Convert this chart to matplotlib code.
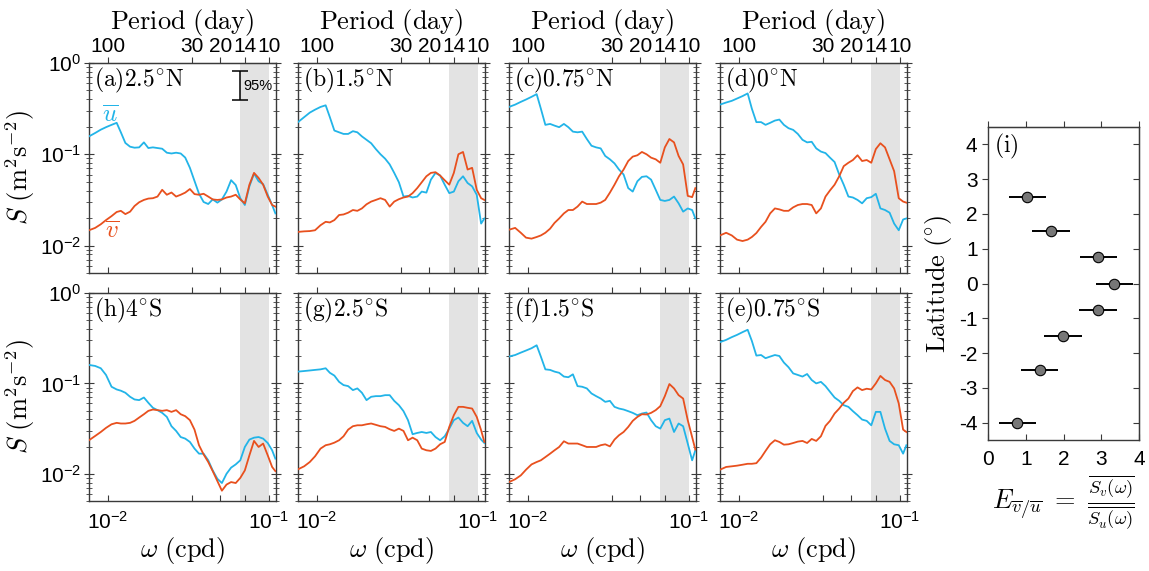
import matplotlib
matplotlib.use("Agg")
import matplotlib.pyplot as plt
from matplotlib.ticker import LogLocator, NullLocator, NullFormatter, FixedLocator

plt.rcParams['font.family'] = ['Liberation Sans', 'DejaVu Sans']
plt.rcParams['mathtext.fontset'] = 'cm'
plt.rcParams['axes.unicode_minus'] = False

# ---------------- data ----------------
freq = [0.0076, 0.0083, 0.0090, 0.0097, 0.0105, 0.0113, 0.0120, 0.0128, 0.0137, 0.0146,
        0.0156, 0.0167, 0.0178, 0.0190, 0.0203, 0.0217, 0.0232, 0.0248, 0.0265, 0.0283,
        0.0302, 0.0323, 0.0345, 0.0368, 0.0393, 0.0420, 0.0448, 0.0479, 0.0511, 0.0546,
        0.0583, 0.0623, 0.0665, 0.0710, 0.0758, 0.0810, 0.0865, 0.0923, 0.0986, 0.1050, 0.1100]

u_a = [0.157,0.171,0.186,0.198,0.210,0.221,0.174,0.133,0.121,0.118,0.119,0.135,0.117,0.119,0.117,0.115,0.104,0.102,0.104,0.102,
       0.092,0.071,0.051,0.037,0.030,0.0285,0.032,0.0295,0.032,0.039,0.052,0.046,0.033,0.0278,0.0445,0.0615,0.0506,0.047,0.036,0.0278,0.0225]
v_a = [0.0147,0.0156,0.0171,0.019,0.021,0.0233,0.024,0.0221,0.0235,0.0271,0.0298,0.0316,0.0327,0.033,0.0344,0.0408,0.036,0.0381,0.0344,0.036,
       0.038,0.0416,0.0366,0.036,0.0369,0.0344,0.032,0.0316,0.032,0.0336,0.0344,0.036,0.032,0.029,0.0464,0.0625,0.055,0.0464,0.0344,0.0278,0.0267]
u_b = [0.225,0.255,0.286,0.308,0.330,0.344,0.255,0.182,0.174,0.167,0.167,0.179,0.174,0.157,0.144,0.132,0.114,0.100,0.0895,0.0774,
       0.0625,0.0493,0.0344,0.035,0.0336,0.0344,0.039,0.038,0.0527,0.0625,0.0585,0.0464,0.0375,0.039,0.0506,0.0574,0.0484,0.0445,0.036,0.0174,0.0198]
v_b = [0.0141,0.0143,0.0144,0.0147,0.0167,0.0182,0.0179,0.019,0.0216,0.0219,0.0229,0.0245,0.024,0.0255,0.0283,0.0303,0.0316,0.033,0.0316,0.0267,
       0.0303,0.0322,0.0336,0.0344,0.0375,0.0426,0.0493,0.0574,0.0625,0.0636,0.0585,0.0519,0.0464,0.0625,0.100,0.106,0.068,0.071,0.0408,0.033,0.0316]
u_c = [0.330,0.350,0.375,0.398,0.426,0.456,0.316,0.210,0.215,0.206,0.198,0.215,0.198,0.177,0.174,0.177,0.147,0.124,0.119,0.116,
       0.0958,0.088,0.0794,0.068,0.060,0.0426,0.039,0.0506,0.0565,0.0574,0.0527,0.0408,0.0316,0.0308,0.0316,0.0344,0.029,0.0235,0.0255,0.0245,0.0198]
v_c = [0.0149,0.0156,0.0138,0.0122,0.0119,0.0124,0.0129,0.0138,0.0153,0.0177,0.0198,0.0225,0.0245,0.0245,0.0267,0.0303,0.0285,0.0285,0.0285,0.0295,
       0.0316,0.038,0.0464,0.0574,0.068,0.0843,0.0942,0.0975,0.106,0.100,0.0918,0.088,0.0807,0.119,0.147,0.135,0.0958,0.0774,0.035,0.0339,0.0426]
u_d = [0.350,0.369,0.385,0.408,0.434,0.464,0.316,0.225,0.225,0.210,0.221,0.234,0.240,0.210,0.193,0.185,0.167,0.144,0.135,0.137,
       0.116,0.107,0.103,0.0918,0.0822,0.060,0.0464,0.0344,0.0336,0.0316,0.029,0.033,0.0339,0.0369,0.0255,0.0245,0.0229,0.0174,0.0147,0.0193,0.0198]
v_d = [0.0129,0.0138,0.0129,0.0116,0.0112,0.0116,0.0124,0.0137,0.016,0.0182,0.0225,0.0255,0.0249,0.024,0.024,0.0262,0.0278,0.0285,0.0285,0.0278,
       0.0225,0.0255,0.0344,0.0402,0.0464,0.0574,0.0741,0.0807,0.0865,0.0975,0.0843,0.0865,0.0807,0.114,0.132,0.119,0.088,0.0653,0.033,0.0303,0.0295]
u_h = [0.160,0.156,0.147,0.124,0.0918,0.0857,0.083,0.0788,0.0711,0.0664,0.0653,0.0698,0.061,0.0537,0.0506,0.0472,0.0426,0.0336,0.0298,0.0255,
       0.0245,0.0225,0.019,0.0167,0.0167,0.0141,0.0109,0.0088,0.0079,0.010,0.0117,0.0127,0.0141,0.0198,0.0239,0.0251,0.0255,0.0245,0.0219,0.0182,0.0147]
v_h = [0.0235,0.0262,0.029,0.0322,0.0353,0.0366,0.036,0.036,0.0366,0.0385,0.0419,0.0456,0.0497,0.0514,0.0506,0.0497,0.0506,0.0484,0.0506,0.0456,
       0.0434,0.0392,0.0308,0.0207,0.0164,0.0135,0.0107,0.0083,0.0065,0.0076,0.0081,0.0079,0.009,0.0109,0.016,0.0231,0.0198,0.0216,0.016,0.0119,0.0107]
u_g = [0.135,0.137,0.139,0.141,0.143,0.147,0.131,0.122,0.104,0.0958,0.0933,0.0843,0.088,0.0788,0.0653,0.0711,0.0723,0.0723,0.0741,0.0741,
       0.0641,0.0574,0.0493,0.0392,0.0274,0.0283,0.029,0.0283,0.029,0.0255,0.0235,0.026,0.0316,0.0392,0.0419,0.0366,0.0336,0.0385,0.0283,0.0239,0.0219]
v_g = [0.0112,0.0121,0.0135,0.0156,0.019,0.0207,0.0212,0.0221,0.0235,0.026,0.0308,0.0336,0.0344,0.0344,0.0353,0.036,0.0348,0.0336,0.033,0.0311,
       0.0298,0.0316,0.0298,0.0235,0.0251,0.0235,0.019,0.0182,0.0179,0.019,0.0212,0.0225,0.033,0.0445,0.055,0.055,0.0537,0.0527,0.0426,0.0303,0.0225]
u_f = [0.198,0.206,0.219,0.231,0.245,0.264,0.198,0.143,0.141,0.135,0.131,0.119,0.117,0.126,0.0933,0.0918,0.088,0.0774,0.0723,0.068,
       0.0625,0.0641,0.055,0.0527,0.0514,0.0493,0.0472,0.0445,0.0464,0.0476,0.0392,0.0336,0.0316,0.0392,0.0408,0.029,0.036,0.0336,0.0216,0.0141,0.0182]
v_f = [0.0081,0.0087,0.0096,0.0111,0.0127,0.0135,0.0141,0.0153,0.0167,0.0182,0.0198,0.0229,0.0216,0.0216,0.0216,0.0207,0.0198,0.0198,0.0198,0.0207,
       0.0212,0.0201,0.0239,0.0267,0.029,0.033,0.0385,0.0426,0.0456,0.0453,0.0472,0.0506,0.056,0.0723,0.0984,0.088,0.0741,0.068,0.0392,0.0255,0.0185]
u_e = [0.286,0.303,0.325,0.344,0.369,0.392,0.295,0.203,0.206,0.190,0.198,0.206,0.201,0.170,0.151,0.129,0.124,0.119,0.127,0.109,
       0.100,0.104,0.0933,0.0807,0.0698,0.0641,0.0574,0.055,0.0493,0.0445,0.0398,0.0385,0.0344,0.0484,0.0484,0.0316,0.0231,0.0212,0.0207,0.0167,0.0207]
v_e = [0.0111,0.0119,0.0121,0.0123,0.0126,0.0129,0.0129,0.0131,0.0151,0.0179,0.0212,0.0235,0.0225,0.021,0.0212,0.0219,0.0227,0.0231,0.0219,0.0243,
       0.0231,0.026,0.0339,0.0385,0.0464,0.0527,0.061,0.068,0.0822,0.0903,0.0843,0.0873,0.0857,0.100,0.121,0.109,0.104,0.088,0.060,0.0308,0.029]

panel_titles = ['(a)2.5^{\\circ}N', '(b)1.5^{\\circ}N', '(c)0.75^{\\circ}N', '(d)0^{\\circ}N',
                '(h)4^{\\circ}S', '(g)2.5^{\\circ}S', '(f)1.5^{\\circ}S', '(e)0.75^{\\circ}S']
u_series = [u_a, u_b, u_c, u_d, u_h, u_g, u_f, u_e]
v_series = [v_a, v_b, v_c, v_d, v_h, v_g, v_f, v_e]

periods = [100, 30, 20, 14, 10]          # day
band_periods = [15, 10]                  # shaded band (day)

lat = [2.5, 1.5, 0.75, 0, -0.75, -1.5, -2.5, -4]
E_mean = [1.03, 1.66, 2.92, 3.35, 2.91, 1.98, 1.37, 0.77]
E_low = [0.55, 1.17, 2.44, 2.85, 2.42, 1.48, 0.87, 0.28]
E_high = [1.53, 2.16, 3.43, 3.84, 3.41, 2.49, 1.86, 1.28]

# ---------------- style ----------------
C_U = '#22B4E8'
C_V = '#E8501E'
SPINE = '#3a3a3a'
TICK_FS = 15
LAB_FS = 19

W, H = 1149, 571
fig = plt.figure(figsize=(W / 100, H / 100), dpi=100)

col_left = [89, 298, 509, 720]
pw = 187
rows = [(63, 273), (293, 501)]

period_freq = [1.0 / p for p in periods]

for k in range(8):
    r, c = divmod(k, 4)
    top, bot = rows[r]
    ax = fig.add_axes([col_left[c] / W, (H - bot) / H, pw / W, (bot - top) / H])
    ax.set_xscale('log')
    ax.set_yscale('log')
    ax.axvspan(1.0 / band_periods[0], 1.0 / band_periods[1], color='#E3E3E3', lw=0, zorder=0)
    ax.plot(freq, u_series[k], color=C_U, lw=1.3, zorder=3)
    ax.plot(freq, v_series[k], color=C_V, lw=1.3, zorder=3)
    ax.set_xlim(0.0076, 0.111)
    ax.set_ylim(0.005, 1.0)

    for s in ax.spines.values():
        s.set_color(SPINE)
        s.set_linewidth(1.0)

    # x ticks (bottom)
    ax.xaxis.set_major_locator(FixedLocator(period_freq))
    ax.xaxis.set_minor_locator(NullLocator())
    if r == 1:
        ax.set_xticklabels(['$\\mathdefault{10^{-2}}$', '', '', '', '$\\mathdefault{10^{-1}}$'])
        ax.set_xlabel('$\\omega\\ \\mathrm{(cpd)}$', fontsize=LAB_FS, labelpad=2)
    else:
        ax.set_xticklabels([])
    ax.tick_params(axis='x', which='both', direction='in', top=False, length=4,
                   labelsize=TICK_FS, colors=SPINE, labelcolor='black', pad=7)

    # y ticks
    ax.yaxis.set_major_locator(FixedLocator([1e-2, 1e-1, 1e0]))
    ax.yaxis.set_minor_locator(LogLocator(base=10, subs=[2, 3, 4, 5, 6, 7, 8, 9]))
    ax.yaxis.set_minor_formatter(NullFormatter())
    if c == 0:
        ax.set_yticklabels(['$\\mathdefault{10^{-2}}$', '$\\mathdefault{10^{-1}}$', '$\\mathdefault{10^{0}}$'])
        ax.set_ylabel('$S\\ \\mathrm{(m^2s^{-2})}$', fontsize=LAB_FS, labelpad=2)
    else:
        ax.set_yticklabels([])
    ax.tick_params(axis='y', which='major', direction='inout', left=True, right=True,
                   length=7, labelsize=TICK_FS, colors=SPINE, labelcolor='black', pad=2)
    ax.tick_params(axis='y', which='minor', direction='inout', left=True, right=True,
                   length=4, colors=SPINE)

    # top period axis
    sec = ax.secondary_xaxis('top')
    sec.set_xticks(period_freq)
    sec.xaxis.set_minor_locator(NullLocator())
    if r == 0:
        sec.set_xticklabels([str(p) for p in periods])
        sec.set_xlabel('$\\mathrm{Period\\ (day)}$', fontsize=LAB_FS, labelpad=6)
    else:
        sec.set_xticklabels([])
    sec.tick_params(axis='x', direction='out', length=4, labelsize=TICK_FS, pad=1,
                    colors=SPINE, labelcolor='black')
    sec.spines['top'].set_color(SPINE)

    ax.text(0.025, 0.985, '$\\mathrm{' + panel_titles[k] + '}$', transform=ax.transAxes,
            ha='left', va='top', fontsize=17)

    if k == 0:
        ax.errorbar([1.0 / band_periods[0]], [0.56], yerr=[[0.56 - 0.39], [0.81 - 0.56]],
                    fmt='none', ecolor='black', elinewidth=1.1, capsize=6, capthick=1.1, zorder=5)
        ax.text(0.0695, 0.56, '95%', fontsize=10.5, ha='left', va='center')
        ax.text(0.0103, 0.27, '$\\overline{u}$', color=C_U, fontsize=18, ha='center', va='center')
        ax.text(0.0106, 0.0145, '$\\overline{v}$', color=C_V, fontsize=18, ha='center', va='center')

# ---------------- panel (i) ----------------
axi = fig.add_axes([988 / W, (H - 440) / H, 151 / W, 313 / H])
xerr = [[m - lo for m, lo in zip(E_mean, E_low)], [hi - m for m, hi in zip(E_mean, E_high)]]
axi.errorbar(E_mean, lat, xerr=xerr, fmt='o', ms=7.5, mfc='#777777', mec='black', mew=0.8,
             ecolor='black', elinewidth=1.4, capsize=0, zorder=3)
axi.set_xlim(0, 4)
axi.set_ylim(-4.5, 4.5)
axi.set_xticks([0, 1, 2, 3, 4])
axi.set_yticks([-4, -3, -2, -1, 0, 1, 2, 3, 4])
axi.tick_params(axis='x', direction='in', top=False, length=4, labelsize=TICK_FS, pad=7,
                colors=SPINE, labelcolor='black')
axi.tick_params(axis='y', direction='out', right=False, length=4, labelsize=TICK_FS,
                colors=SPINE, labelcolor='black')
for s in axi.spines.values():
    s.set_color(SPINE)
    s.set_linewidth(1.0)
sx = axi.secondary_xaxis('top')
sx.set_xticks([0, 1, 2, 3, 4])
sx.set_xticklabels([])
sx.tick_params(direction='out', length=4, colors=SPINE)
sy = axi.secondary_yaxis('right')
sy.set_yticks([-4, -3, -2, -1, 0, 1, 2, 3, 4])
sy.set_yticklabels([])
sy.tick_params(direction='in', length=4, colors=SPINE)
axi.text(0.04, 0.985, '$\\mathrm{(i)}$', transform=axi.transAxes, ha='left', va='top', fontsize=17)
axi.set_ylabel('$\\mathrm{Latitude\\ (^{\\circ})}$', fontsize=LAB_FS, labelpad=4)
axi.set_xlabel('$E_{\\overline{v}/\\overline{u}}\\ =\\ \\frac{\\overline{S_v(\\omega)}}{\\overline{S_u(\\omega)}}$',
               fontsize=LAB_FS, labelpad=4)

fig.savefig('out.png', dpi=100)
